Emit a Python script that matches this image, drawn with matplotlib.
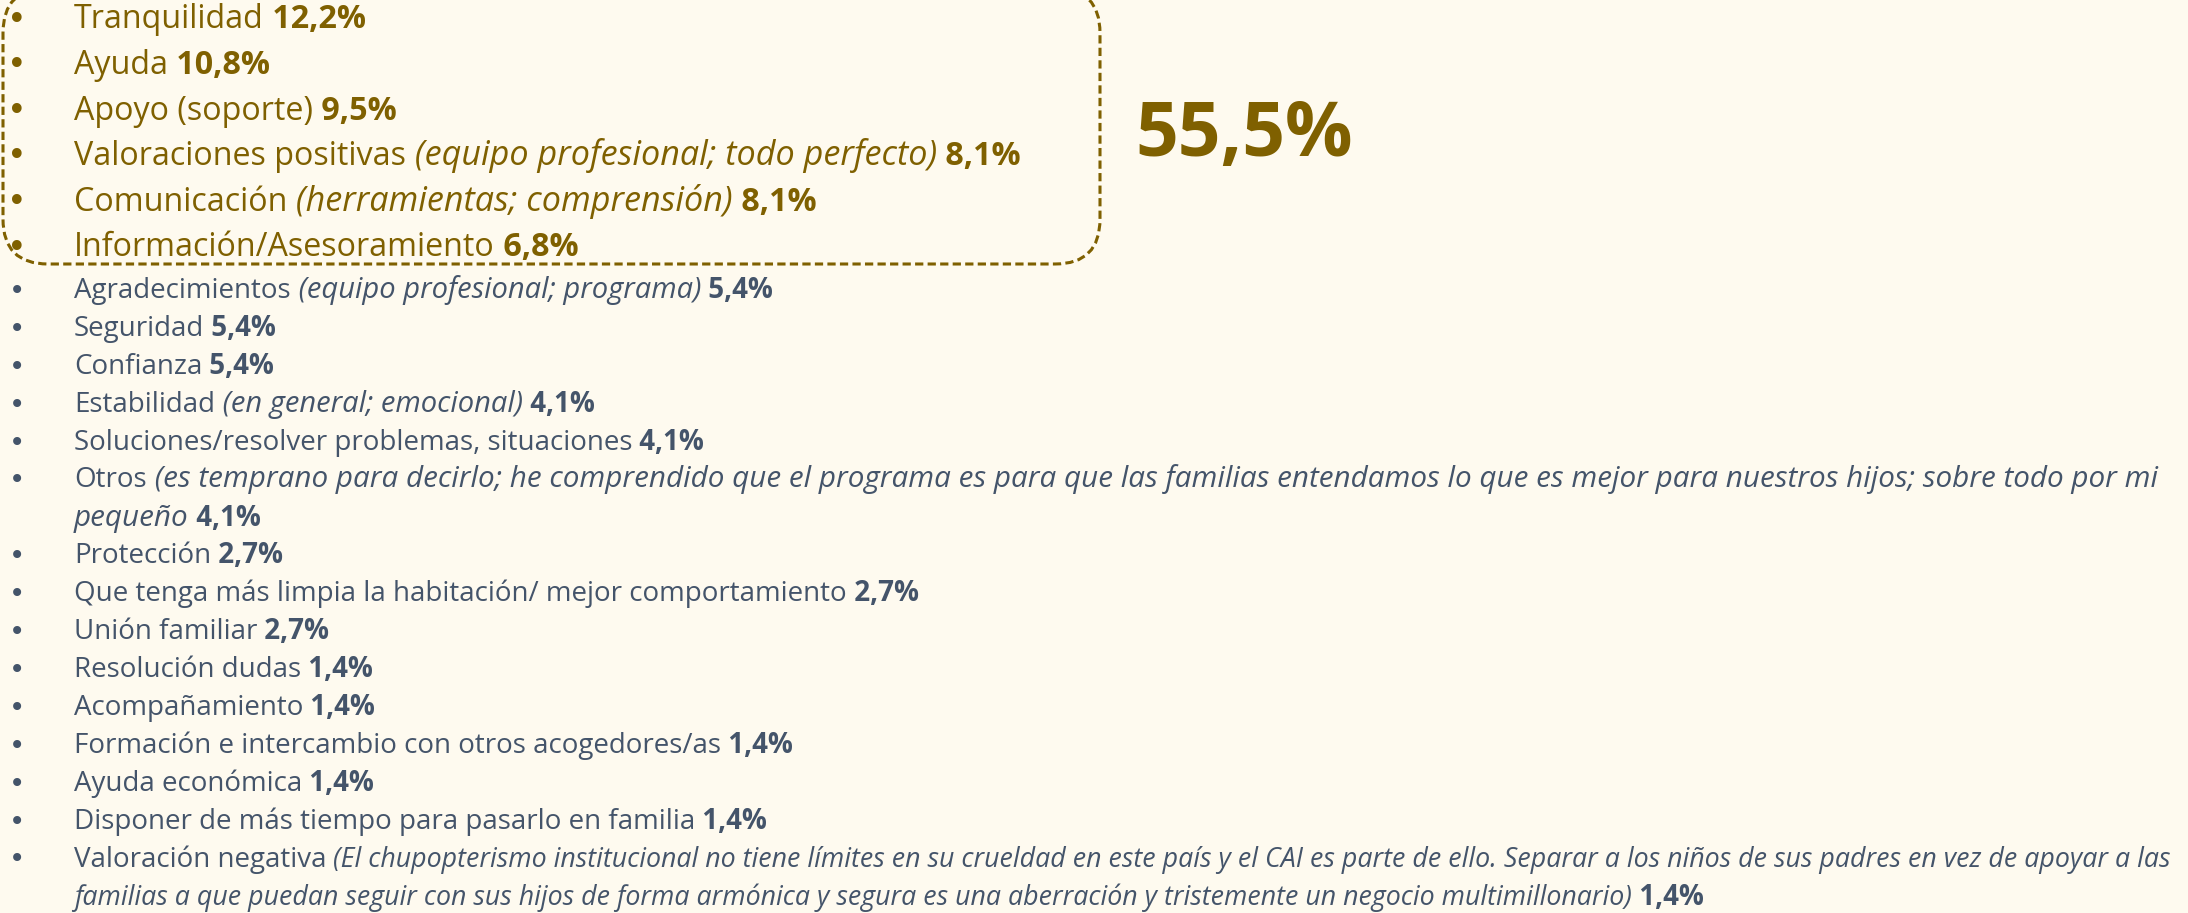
import matplotlib
matplotlib.use("Agg")
import matplotlib.pyplot as plt
from matplotlib.patches import FancyBboxPatch

# main group (inside the dashed box)
top_labels = ["Tranquilidad", "Ayuda", "Apoyo (soporte)", "Valoraciones positivas",
              "Comunicación", "Información/Asesoramiento"]
top_notes = ["", "", "", "(equipo profesional; todo perfecto)",
             "(herramientas; comprensión)", ""]
top_pcts = [12.2, 10.8, 9.5, 8.1, 8.1, 6.8]
top_total = 55.5

# rest of the answers; "\n" marks where the line wraps
rest_labels = ["Agradecimientos", "Seguridad", "Confianza", "Estabilidad",
               "Soluciones/resolver problemas, situaciones", "Otros", "Protección",
               "Que tenga más limpia la habitación/ mejor comportamiento",
               "Unión familiar", "Resolución dudas", "Acompañamiento",
               "Formación e intercambio con otros acogedores/as", "Ayuda económica",
               "Disponer de más tiempo para pasarlo en familia", "Valoración negativa"]
rest_notes = ["(equipo profesional; programa)", "", "", "(en general; emocional)", "",
              "(es temprano para decirlo; he comprendido que el programa es para que las "
              "familias entendamos lo que es mejor para nuestros hijos; sobre todo por mi\npequeño",
              "", "", "", "", "", "", "", "",
              "(El chupopterismo institucional no tiene límites en su crueldad en este país y el "
              "CAI es parte de ello. Separar a los niños de sus padres en vez de apoyar a las\n"
              "familias a que puedan seguir con sus hijos de forma armónica y segura es una "
              "aberración y tristemente un negocio multimillonario)"]
rest_pcts = [5.4, 5.4, 5.4, 4.1, 4.1, 4.1, 2.7, 2.7, 2.7, 1.4, 1.4, 1.4, 1.4, 1.4, 1.4]

GOLD = "#7f6000"
SLATE = "#44546a"
BG = "#fefaef"
FONT = ["Open Sans", "DejaVu Sans"]


def pct(v):
    return f"{v:.1f}%".replace(".", ",")


def chain(ax, x, y, pieces, color):
    # pieces: list of (text, style, weight, size); first placed at (x, y), rest follow
    prev = None
    for s, style, weight, size in pieces:
        kw = dict(fontsize=size, color=color, style=style, weight=weight, family=FONT)
        if prev is None:
            prev = ax.text(x, y, s, ha="left", va="center", **kw)
        else:
            prev = ax.annotate(s, xy=(1, 0), xycoords=prev, ha="left", va="bottom", **kw)
    return prev


def draw_item(ax, y, dy, label, note, value, size, isize, color, bsize, bx=17, tx=74):
    ax.text(bx, y, "•", ha="center", va="center", fontsize=bsize, color=color,
            family="DejaVu Sans")
    lines = note.split("\n") if note else [""]
    for i, part in enumerate(lines):
        pieces = []
        if i == 0:
            pieces.append((label, "normal", "normal", size))
            if part:
                pieces.append((" " + part, "italic", "normal", isize))
        else:
            pieces.append((part, "italic", "normal", isize))
        if i == len(lines) - 1:
            pieces.append((" " + pct(value), "normal", "bold", size))
        chain(ax, tx, y + i * dy, pieces, color)
    return len(lines)


def main():
    fig = plt.figure(figsize=(21.88, 9.13), dpi=100, facecolor=BG)
    ax = fig.add_axes([0, 0, 1, 1])
    ax.set_xlim(0, 2188)
    ax.set_ylim(913, 0)
    ax.axis("off")
    ax.set_facecolor(BG)

    # top block
    y, dy = 20, 45.6
    for lab, note, v in zip(top_labels, top_notes, top_pcts):
        draw_item(ax, y, dy, lab, note, v, 23.2, 24.6, GOLD, 24)
        y += dy

    box = FancyBboxPatch((3, -12), 1097, 276, boxstyle="round,pad=0,rounding_size=45",
                         fill=False, edgecolor=GOLD, linewidth=2.2,
                         linestyle=(0, (2.7, 1.4)))
    ax.add_patch(box)

    ax.text(1244, 136, pct(top_total), ha="center", va="center", fontsize=54,
            weight="bold", color=GOLD, family=FONT)

    # remaining answers (the long comments are set a bit differently in the slide)
    italic_sizes = {5: 21.3, 14: 19.3}
    y, dy = 291, 37.9
    for i, (lab, note, v) in enumerate(zip(rest_labels, rest_notes, rest_pcts)):
        n = draw_item(ax, y, dy, lab, note, v, 20, italic_sizes.get(i, 21.0), SLATE, 20)
        y += n * dy

    fig.savefig("out.png", dpi=100, facecolor=BG)


if __name__ == "__main__":
    main()
